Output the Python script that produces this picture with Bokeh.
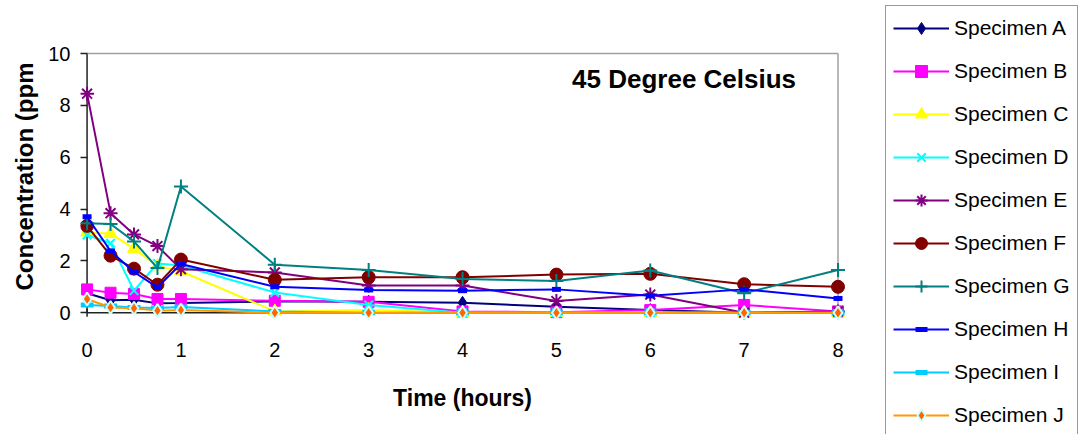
import math
from bokeh.plotting import figure
from bokeh.models import Range1d, Legend, LegendItem, Label, FixedTicker, Title
from bokeh.embed import file_html
from bokeh.resources import INLINE

# ---- data ----
times = [0, 0.25, 0.5, 0.75, 1, 2, 3, 4, 5, 6, 7, 8]
spec_a = [0.75, 0.48, 0.50, 0.36, 0.37, 0.44, 0.42, 0.38, 0.23, 0.10, 0.00, 0.00]
spec_b = [0.90, 0.77, 0.72, 0.53, 0.53, 0.46, 0.42, 0.05, 0.02, 0.10, 0.30, 0.05]
spec_c = [3.10, 3.05, 2.47, 1.80, 1.60, 0.05, 0.10, 0.00, 0.00, 0.00, 0.00, 0.00]
spec_d = [3.00, 2.68, 0.85, 1.90, 1.82, 0.78, 0.30, 0.00, 0.00, 0.00, 0.00, 0.00]
spec_e = [8.45, 3.84, 3.02, 2.57, 1.68, 1.55, 1.05, 1.05, 0.45, 0.70, 0.00, 0.05]
spec_f = [3.35, 2.20, 1.70, 1.08, 2.05, 1.27, 1.37, 1.37, 1.47, 1.50, 1.10, 1.00]
spec_g = [3.45, 3.42, 2.75, 1.72, 4.87, 1.85, 1.65, 1.30, 1.22, 1.63, 0.75, 1.65]
spec_h = [3.70, 2.38, 1.57, 0.98, 1.88, 1.00, 0.88, 0.85, 0.90, 0.65, 0.90, 0.55]
spec_i = [0.30, 0.26, 0.20, 0.18, 0.22, 0.05, 0.00, 0.00, 0.00, 0.00, 0.00, 0.00]
spec_j = [0.53, 0.20, 0.17, 0.08, 0.10, 0.00, 0.00, 0.00, 0.00, 0.00, 0.00, 0.00]

names = ["Specimen A", "Specimen B", "Specimen C", "Specimen D", "Specimen E",
         "Specimen F", "Specimen G", "Specimen H", "Specimen I", "Specimen J"]
series = [spec_a, spec_b, spec_c, spec_d, spec_e, spec_f, spec_g, spec_h, spec_i, spec_j]

x_ticks = [0, 1, 2, 3, 4, 5, 6, 7, 8]
x_tick_labels = ["0", "1", "2", "3", "4", "5", "6", "7", "8"]
y_ticks = [0, 2, 4, 6, 8, 10]
title_text = "45 Degree Celsius"
x_label = "Time (hours)"
y_label = "Concentration (ppm"

# ---- styles ----
styles = [
    dict(line="#000080", marker="diamond", size=13, fill="#000080", mline="#000080", mlw=1),
    dict(line="#FF00FF", marker="square", size=11, fill="#FF00FF", mline="#FF00FF", mlw=1),
    dict(line="#FFFF00", marker="triangle", size=13, fill="#FFFF00", mline="#FFFF00", mlw=1),
    dict(line="#00FFFF", marker="x", size=12, fill=None, mline="#00FFFF", mlw=2),
    dict(line="#800080", marker="asterisk", size=14, fill=None, mline="#800080", mlw=2),
    dict(line="#800000", marker="circle", size=13, fill="#800000", mline="#800000", mlw=1),
    dict(line="#008080", marker="cross", size=14, fill=None, mline="#008080", mlw=2),
    dict(line="#0000FF", marker="dash", size=9, fill=None, mline="#0000FF", mlw=5),
    dict(line="#00CCFF", marker="dash", size=13, fill=None, mline="#00CCFF", mlw=5),
    dict(line="#FF9900", marker="diamond", size=13, fill="#FF6600", mline="#CCFFFF", mlw=2),
]

FONT = "Liberation Sans"
AXIS = "#222222"

# The plotting frame covers the whole page right of the y axis; the data region
# (0-8 h, 0-10 ppm) sits in its upper left, the legend box in its right part.
p = figure(width=1078, height=434, output_backend="svg", toolbar_location=None,
           x_range=Range1d(-0.07, 10.562), y_range=Range1d(-4.699, 12.045),
           x_axis_location=None,
           min_border_left=80, min_border_right=0, min_border_top=0,
           min_border_bottom=0)
p.title.visible = False
p.background_fill_color = "white"
p.border_fill_color = "white"
p.outline_line_color = None
p.xgrid.visible = False
p.ygrid.visible = False

# axis lines at zero and the grey top/right border of the plot area
p.segment(x0=[x_ticks[0], x_ticks[0]], y0=[y_ticks[0], y_ticks[0]],
          x1=[x_ticks[-1], x_ticks[0]], y1=[y_ticks[0], y_ticks[-1]],
          line_color=AXIS, line_width=1.5)
p.segment(x0=[x_ticks[0], x_ticks[-1]], y0=[y_ticks[-1], y_ticks[0]],
          x1=[x_ticks[-1], x_ticks[-1]], y1=[y_ticks[-1], y_ticks[-1]],
          line_color="#A0A0A0", line_width=1.5)
# x tick marks (crossing the axis) and x tick labels
p.scatter(x=x_ticks, y=[y_ticks[0]] * len(x_ticks), marker="dash", angle=math.pi / 2,
          size=8, line_color=AXIS, line_width=1.5)
p.text(x=x_ticks, y=[y_ticks[0] - 1.43] * len(x_ticks), text=x_tick_labels,
       text_font={"value": FONT}, text_font_size="20px", text_color="black",
       text_align="center", text_baseline="middle")

items = []
for name, ys, st in zip(names, series, styles):
    r_line = p.line(times, ys, line_color=st["line"], line_width=2)
    kw = dict(marker=st["marker"], size=st["size"], line_color=st["mline"],
              line_width=st["mlw"])
    if st["fill"] is None:
        kw["fill_alpha"] = 0
    else:
        kw["fill_color"] = st["fill"]
    r_pts = p.scatter(times, ys, **kw)
    items.append(LegendItem(label=name, renderers=[r_line, r_pts]))

# y axis (library axis, left panel)
ya = p.yaxis[0]
ya.ticker = FixedTicker(ticks=y_ticks)
ya.minor_tick_line_color = None
ya.major_tick_in = 7
ya.major_tick_out = 0
ya.axis_line_color = None
ya.major_tick_line_color = AXIS
ya.major_tick_line_width = 1.5
ya.major_label_text_font = FONT
ya.major_label_text_font_size = "20px"
ya.major_label_text_color = "black"
ya.major_label_standoff = 10

# y-axis title, placed beside the 0-10 ppm span
p.add_layout(Title(text=y_label, align="left", offset=144, standoff=16,
                   text_font=FONT, text_font_style="bold", text_font_size="24px",
                   text_color="black"), "left")

# x-axis title under the middle of the 0-8 h span
p.add_layout(Label(x=(x_ticks[0] + x_ticks[-1]) / 2, y=y_ticks[0] - 3.28, text=x_label,
                   text_font=FONT, text_font_style="bold", text_font_size="23px",
                   text_align="center", text_baseline="middle", text_color="black"))

p.add_layout(Label(x=6.36, y=9.03, text=title_text, text_font=FONT,
                   text_font_style="bold", text_font_size="26px",
                   text_align="center", text_baseline="middle", text_color="black"))

legend = Legend(items=items, location=(805, -4),
                border_line_color="#333333", border_line_width=1,
                background_fill_color="white", background_fill_alpha=1,
                label_text_font=FONT, label_text_font_size="21px",
                label_text_color="black",
                glyph_width=56, glyph_height=30, label_height=30, spacing=13,
                padding=7, label_standoff=5, margin=0)
p.add_layout(legend, "center")

open("out.html", "w").write(file_html(p, INLINE))
